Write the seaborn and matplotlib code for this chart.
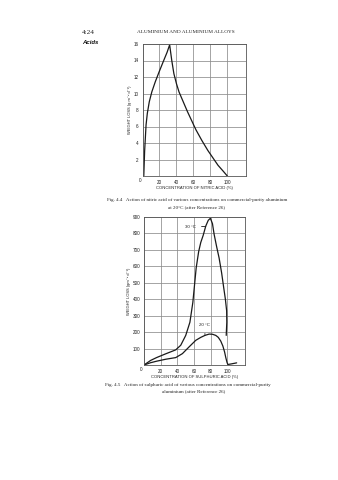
import matplotlib
matplotlib.use("Agg")
import matplotlib.pyplot as plt
import seaborn as sns
import pandas as pd

# Fig. 4.4 - nitric acid, 20 °C
nitric_conc = [1.5, 2.5, 4.2, 5.7, 8, 11, 15, 19.5, 25, 29, 32, 34.5, 37, 40, 43,
               48, 53, 58, 63, 70, 77, 83, 89, 95, 100]
nitric_loss = [0, 3, 6.2, 7.6, 9.0, 10.2, 11.4, 12.6, 14.0, 15.0, 15.9, 14.0, 12.4,
               11.2, 10.2, 9.0, 7.8, 6.7, 5.6, 4.3, 3.1, 2.2, 1.3, 0.6, 0]

# Fig. 4.5 - sulphuric acid, 30 °C and 20 °C
sulph30_conc = [0, 8, 15, 26, 38, 44, 50, 55, 58.5, 60.5, 62.5, 65.5, 68, 71, 74, 77,
                79.5, 82, 84, 87, 90, 93, 95.5, 97.5, 99, 99.2, 98.5]
sulph30_loss = [0, 28, 45, 68, 92, 120, 180, 260, 380, 485, 590, 690, 745, 790, 845,
                880, 892, 860, 795, 720, 650, 560, 470, 400, 330, 260, 180]
sulph20_conc = [0, 8, 15, 26, 38, 46, 54, 62, 68, 73, 78, 82, 86, 89, 92, 94.5, 96.5,
                98, 99.5, 100.5, 105, 111]
sulph20_loss = [0, 14, 23, 35, 45, 69, 110, 150, 168, 180, 188, 187, 180, 168, 145,
                115, 80, 45, 15, 3, 7, 13]

x_ticks = [0, 20, 40, 60, 80, 100]
nitric_yticks = [2, 4, 6, 8, 10, 12, 14, 16]
sulph_yticks = [100, 200, 300, 400, 500, 600, 700, 800, 900]

sns.set_theme(style="white")
plt.rcParams["font.family"] = ["Liberation Sans", "DejaVu Sans"]

W, H = 338, 480
fig = plt.figure(figsize=(W / 100, H / 100), dpi=100)
fig.patch.set_facecolor("white")

SERIF = ["Liberation Serif", "DejaVu Serif"]
GRID = "#8c8c8c"
INK = "#1a1a1a"


def px(x, y):
    return x / W, 1 - y / H


def style_axes(ax, xmax, ymax, yticks):
    ax.set_facecolor("white")
    ax.set_xlim(0, xmax)
    ax.set_ylim(0, ymax)
    ax.set_xticks(x_ticks)
    ax.set_xticklabels([""] + [str(v) for v in x_ticks[1:]])
    ax.set_yticks(yticks)
    ax.set_yticklabels([str(v) for v in yticks])
    ax.tick_params(axis="both", labelsize=3.3, length=1.5, width=0.5,
                   pad=1.2, colors="#333333", labelcolor="#222222")
    ax.grid(True, color=GRID, linewidth=0.55)
    for s in ax.spines.values():
        s.set_color("#555555")
        s.set_linewidth(0.6)
    ax.text(-0.015, -0.015, "0", transform=ax.transAxes, ha="right", va="top",
            fontsize=3.3, color="#222222")


# ---- Nitric acid chart ----
ax1 = fig.add_axes([142.5 / W, 1 - 176 / H, (246 - 142.5) / W, (176 - 44) / H])
df_n = pd.DataFrame({"conc": nitric_conc, "loss": nitric_loss})
sns.lineplot(data=df_n, x="conc", y="loss", ax=ax1, sort=False, estimator=None,
             color=INK, linewidth=0.9)
style_axes(ax1, 122, 16, nitric_yticks)
ax1.set_xlabel("CONCENTRATION OF NITRIC ACID (%)", fontsize=3.0, labelpad=1.0,
               color="#222222")
ax1.set_ylabel("WEIGHT LOSS (g m\u207b\u00b2 d\u207b\u00b9)", fontsize=2.9,
               labelpad=1.5, color="#222222")

# ---- Sulphuric acid chart ----
ax2 = fig.add_axes([144 / W, 1 - 365 / H, (245 - 144) / W, (365 - 217) / H])
df_30 = pd.DataFrame({"conc": sulph30_conc, "loss": sulph30_loss})
df_20 = pd.DataFrame({"conc": sulph20_conc, "loss": sulph20_loss})
sns.lineplot(data=df_30, x="conc", y="loss", ax=ax2, sort=False, estimator=None,
             color=INK, linewidth=0.9)
sns.lineplot(data=df_20, x="conc", y="loss", ax=ax2, sort=False, estimator=None,
             color=INK, linewidth=0.9)
style_axes(ax2, 121, 900, sulph_yticks)
ax2.set_xlabel("CONCENTRATION OF SULPHURIC ACID (%)", fontsize=3.0, labelpad=1.0,
               color="#222222")
ax2.set_ylabel("WEIGHT LOSS (gm\u207b\u00b2 d\u207b\u00b9)", fontsize=2.9,
               labelpad=1.5, color="#222222")

ax2.annotate("30 \u00b0C", xy=(74, 842), xytext=(56, 842), fontsize=3.2,
             ha="center", va="center", color="#222222",
             arrowprops=dict(arrowstyle="-", color=INK, lw=0.6,
                             shrinkA=1.5, shrinkB=0))
ax2.annotate("20 \u00b0C", xy=(73, 181), xytext=(73, 246), fontsize=3.2,
             ha="center", va="center", color="#222222",
             arrowprops=dict(arrowstyle="-", color=INK, lw=0.5,
                             shrinkA=2.5, shrinkB=0))

# ---- Page header and captions ----
fig.text(*px(82, 32), "4:24", fontsize=5.2, family=SERIF, ha="left", va="center",
         color="#222222")
fig.text(*px(137, 32), "ALUMINIUM AND ALUMINIUM ALLOYS", fontsize=3.8, family=SERIF,
         ha="left", va="center", color="#222222")
fig.text(*px(82, 43), "Acids", fontsize=4.3, fontweight="bold", style="italic",
         ha="left", va="center", color="#111111")

fig.text(*px(197, 200),
         "Fig. 4.4   Action of nitric acid of various concentrations on commercial-purity aluminium",
         fontsize=3.6, family=SERIF, ha="center", va="center", color="#222222")
fig.text(*px(197, 207), "at 20\u00b0C (after Reference 26)", fontsize=3.6,
         family=SERIF, ha="center", va="center", color="#222222")
fig.text(*px(188, 385),
         "Fig. 4.5   Action of sulphuric acid of various concentrations on commercial-purity",
         fontsize=3.6, family=SERIF, ha="center", va="center", color="#222222")
fig.text(*px(194, 391), "aluminium (after Reference 26)", fontsize=3.6,
         family=SERIF, ha="center", va="center", color="#222222")

fig.savefig("out.png", dpi=100, facecolor="white")
